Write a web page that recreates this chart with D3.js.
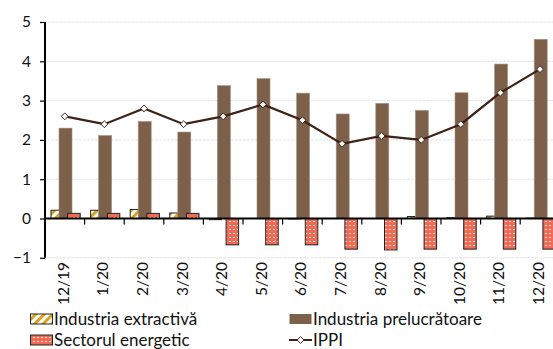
<!DOCTYPE html>
<html>
<head>
<meta charset="utf-8">
<script src="https://cdn.jsdelivr.net/npm/d3@7"></script>
<style>
  html, body { margin: 0; padding: 0; background: #fff; }
  svg { display: block; font-family: Lato, "Open Sans", sans-serif; }
</style>
</head>
<body>
<svg id="chart" width="553" height="349"></svg>
<script>
// Monthly contributions (percentage points) and IPPI annual rate
const categories = ["12/19", "1/20", "2/20", "3/20", "4/20", "5/20", "6/20", "7/20", "8/20", "9/20", "10/20", "11/20", "12/20"];
const extractiva = [0.21, 0.21, 0.23, 0.14, -0.03, 0.0, -0.01, 0.0, 0.0, 0.05, 0.02, 0.06, 0.01];
const prelucratoare = [2.30, 2.11, 2.47, 2.20, 3.38, 3.56, 3.19, 2.66, 2.93, 2.75, 3.20, 3.93, 4.56];
const energetic = [0.13, 0.13, 0.13, 0.13, -0.67, -0.67, -0.67, -0.78, -0.80, -0.78, -0.78, -0.78, -0.78];
const ippi = [2.6, 2.4, 2.8, 2.4, 2.6, 2.9, 2.5, 1.9, 2.1, 2.0, 2.4, 3.2, 3.8];
const yTicks = [-1, 0, 1, 2, 3, 4, 5];
const legendLabels = ["Industria extractivă", "Industria prelucrătoare", "Sectorul energetic", "IPPI"];

const svg = d3.select("#chart");
const left = 45, bandW = 39.6;

const x = d3.scaleBand().domain(categories).range([left, left + bandW * categories.length]).padding(0);
const y = d3.scaleLinear().domain([-1, 5]).range([257.8, 22]);

const BROWN = "#7d6049";
const LINE = "#3e2117";

// patterns
const defs = svg.append("defs");
const hatch = defs.append("pattern").attr("id", "hatch").attr("patternUnits", "userSpaceOnUse")
  .attr("width", 6).attr("height", 6).attr("patternTransform", "rotate(45)");
hatch.append("rect").attr("width", 6).attr("height", 6).attr("fill", "#fff");
hatch.append("rect").attr("width", 3).attr("height", 6).attr("fill", "#d9a21b");

const dots = defs.append("pattern").attr("id", "dots").attr("patternUnits", "userSpaceOnUse")
  .attr("width", 4).attr("height", 4);
dots.append("rect").attr("width", 4).attr("height", 4).attr("fill", "#f06a55");
dots.append("rect").attr("x", 1).attr("y", 1).attr("width", 2).attr("height", 1).attr("fill", "#fde2dc");

// gridlines
svg.append("g").selectAll("line").data(yTicks.filter(d => d !== 0)).join("line")
  .attr("x1", left + 2).attr("x2", 553)
  .attr("y1", d => y(d)).attr("y2", d => y(d))
  .attr("stroke", "#e2e2e2").attr("stroke-width", 1).attr("stroke-dasharray", "3,1");

const bw = x.bandwidth();
// sub-bar layout within a category band (fractions of the band)
const extOff = 6 / 39.6, extW = 12 / 39.6;
const preOff = 14 / 39.6, preW = 13 / 39.6;
const eneOff = 22.7 / 39.6, eneW = 12.5 / 39.6;

function barRect(sel, vals, off, w) {
  return sel.selectAll("rect").data(vals).join("rect")
    .attr("x", (d, i) => x(categories[i]) + off * bw)
    .attr("width", w * bw)
    .attr("y", d => Math.min(y(d), y(0)))
    .attr("height", d => Math.abs(y(d) - y(0)));
}

barRect(svg.append("g"), extractiva, extOff, extW)
  .attr("fill", "url(#hatch)").attr("stroke", "#222").attr("stroke-width", 1);
barRect(svg.append("g"), prelucratoare, preOff, preW)
  .attr("fill", BROWN).attr("stroke", "#a8917e").attr("stroke-width", 0.6);
barRect(svg.append("g"), energetic, eneOff, eneW)
  .attr("fill", "url(#dots)").attr("stroke", "#222").attr("stroke-width", 1);

// IPPI line
const cx = (d, i) => x(categories[i]) + bw / 2;
svg.append("path").datum(ippi)
  .attr("d", d3.line().x(cx).y(d => y(d)))
  .attr("fill", "none").attr("stroke", LINE).attr("stroke-width", 2.2);
svg.append("g").selectAll("path").data(ippi).join("path")
  .attr("d", d3.symbol(d3.symbolDiamond2, 30))
  .attr("transform", (d, i) => `translate(${cx(d, i)},${y(d)})`)
  .attr("fill", "#fff").attr("stroke", LINE).attr("stroke-width", 1);

// y axis
const yAxis = svg.append("g").attr("transform", `translate(${left},0)`)
  .call(d3.axisLeft(y).tickValues(yTicks).tickFormat(d3.format("d")).tickSize(5).tickPadding(9));
yAxis.select(".domain").attr("stroke", "#000").attr("stroke-width", 2).attr("d", `M0,${y(5)}V${y(-1)}`);
yAxis.selectAll(".tick line").attr("stroke", "#000").attr("stroke-width", 1.2);
yAxis.selectAll("text").attr("font-size", 15.5).attr("fill", "#111").attr("font-family", "Lato, sans-serif");

// x axis at zero with ticks between categories
const xAxisG = svg.append("g");
xAxisG.append("line").attr("x1", left).attr("x2", 553).attr("y1", y(0)).attr("y2", y(0))
  .attr("stroke", "#000").attr("stroke-width", 2);
xAxisG.selectAll("line.tk").data(categories.slice(1)).join("line").attr("class", "tk")
  .attr("x1", d => x(d)).attr("x2", d => x(d))
  .attr("y1", y(0)).attr("y2", y(0) + 6)
  .attr("stroke", "#000").attr("stroke-width", 1.2);

// category labels, rotated, below the plot
svg.append("g").selectAll("text").data(categories).join("text")
  .attr("transform", d => `translate(${x(d) + bw / 2 + 4},262) rotate(-90)`)
  .attr("text-anchor", "end")
  .attr("font-size", 15.5).attr("fill", "#111")
  .text(d => d);

// legend
const legend = svg.append("g").attr("font-size", 17).attr("fill", "#111");
const items = [
  { x: 30, y: 319, kind: "ext" },
  { x: 289, y: 319, kind: "pre" },
  { x: 30, y: 340, kind: "ene" },
  { x: 289, y: 340, kind: "line" }
];
items.forEach((it, i) => {
  const g = legend.append("g");
  if (it.kind === "line") {
    g.append("line").attr("x1", it.x).attr("x2", it.x + 23).attr("y1", it.y).attr("y2", it.y)
      .attr("stroke", LINE).attr("stroke-width", 2);
    g.append("path").attr("d", d3.symbol(d3.symbolDiamond2, 30))
      .attr("transform", `translate(${it.x + 11.5},${it.y})`)
      .attr("fill", "#fff").attr("stroke", LINE).attr("stroke-width", 1);
  } else {
    const fill = it.kind === "ext" ? "url(#hatch)" : it.kind === "pre" ? BROWN : "url(#dots)";
    g.append("rect").attr("x", it.x + 0.5).attr("y", it.y - 5).attr("width", 22).attr("height", 10)
      .attr("fill", fill).attr("stroke", it.kind === "pre" ? "none" : "#222").attr("stroke-width", 1);
  }
  g.append("text").attr("x", it.x + 24).attr("y", it.y).attr("dy", "0.35em").text(legendLabels[i]);
});
</script>
</body>
</html>
